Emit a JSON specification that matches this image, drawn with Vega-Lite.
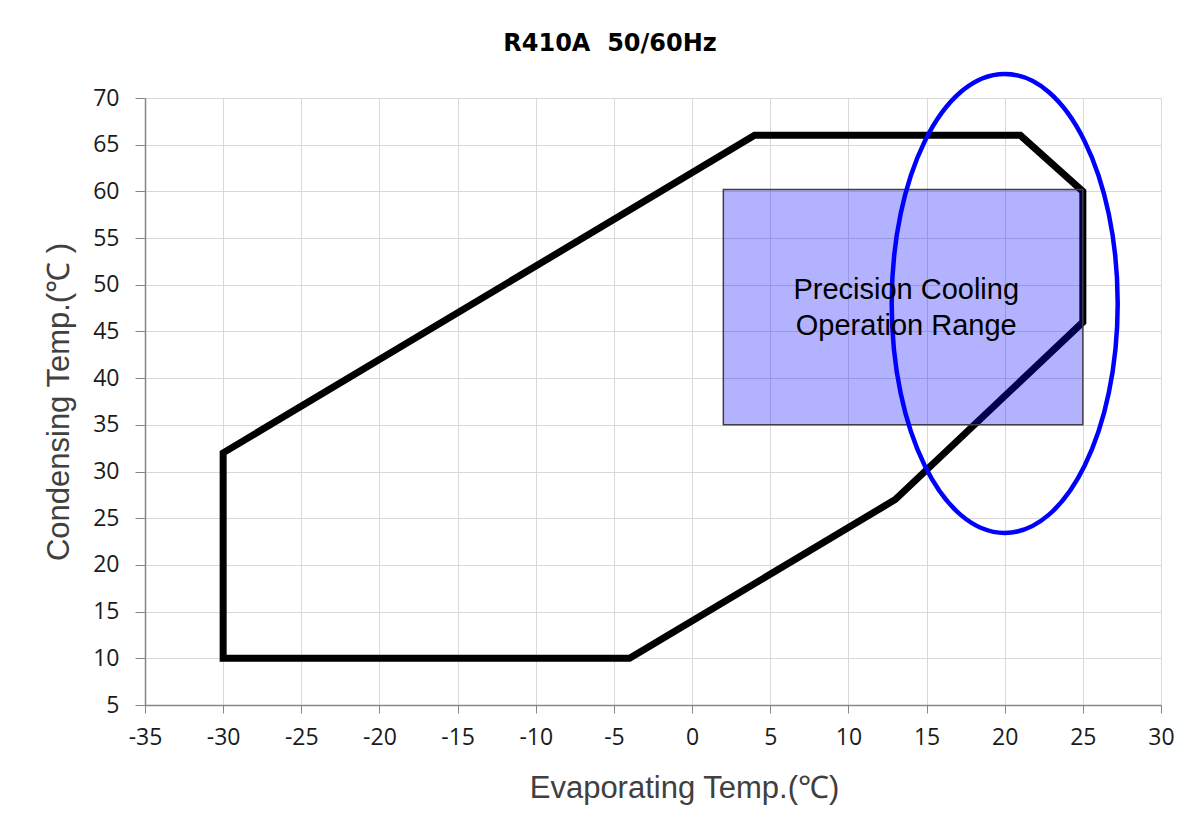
{
  "$schema": "https://vega.github.io/schema/vega-lite/v6.json",
  "width": 1016,
  "height": 607,
  "autosize": "none",
  "padding": {"left": 145, "top": 98, "right": 26, "bottom": 118},
  "background": "white",
  "title": {
    "text": "R410A\u00a0\u00a050/60Hz",
    "font": "DejaVu Sans",
    "fontWeight": "bold",
    "fontSize": 24,
    "color": "#000000",
    "anchor": "middle",
    "frame": "group",
    "baseline": "alphabetic",
    "dx": -43,
    "offset": -10
  },
  "config": {
    "view": {"stroke": null},
    "axisX": {
      "tickCount": 13,
      "grid": true,
      "gridColor": "#d9d9d9",
      "gridWidth": 1,
      "domainColor": "#868686",
      "domainWidth": 1.5,
      "tickColor": "#868686",
      "tickSize": 8,
      "labelFont": "Open Sans",
      "labelFontSize": 23,
      "labelColor": "#1a1a1a",
      "labelPadding": 13,
      "labelExpr": "'' + datum.value",
      "labelFlush": false,
      "labelOverlap": false,
      "titleFont": "Liberation Sans",
      "titleFontSize": 31,
      "titleFontWeight": "normal",
      "titleColor": "#404040",
      "titleBaseline": "alphabetic",
      "titleX": 539,
      "titleY": 92
    },
    "axisY": {
      "tickCount": 13,
      "grid": true,
      "gridColor": "#d9d9d9",
      "gridWidth": 1,
      "domainColor": "#868686",
      "domainWidth": 1.5,
      "tickColor": "#868686",
      "tickSize": 10,
      "labelFont": "Open Sans",
      "labelFontSize": 23,
      "labelColor": "#1a1a1a",
      "labelPadding": 16,
      "labelFlush": false,
      "labelOverlap": false,
      "titleFont": "Liberation Sans",
      "titleFontSize": 31,
      "titleFontWeight": "normal",
      "titleColor": "#404040",
      "titleBaseline": "alphabetic",
      "titleX": -77
    }
  },
  "datasets": {
    "envelope": [
      {"seq": 1, "x": -30, "y": 10},
      {"seq": 2, "x": -30, "y": 32},
      {"seq": 3, "x": 4, "y": 66},
      {"seq": 4, "x": 21, "y": 66},
      {"seq": 5, "x": 25, "y": 60},
      {"seq": 6, "x": 25, "y": 46},
      {"seq": 7, "x": 13, "y": 27},
      {"seq": 8, "x": -4, "y": 10},
      {"seq": 9, "x": -30, "y": 10}
    ],
    "range": [{"x": 2, "x2": 25, "y": 35, "y2": 60.2}],
    "focus": [{"x": 20, "y": 48}],
    "labels": [
      {"x": 13.7, "y": 48.45, "label": "Precision Cooling"},
      {"x": 13.7, "y": 44.6, "label": "Operation Range"}
    ]
  },
  "layer": [
    {
      "data": {"name": "envelope"},
      "mark": {"type": "line", "stroke": "#000000", "strokeWidth": 7, "strokeJoin": "miter", "strokeCap": "square"},
      "encoding": {
        "x": {"field": "x", "type": "quantitative", "title": "Evaporating Temp.(℃)", "scale": {"domain": [-35, 30], "nice": false, "zero": false}},
        "y": {"field": "y", "type": "quantitative", "title": "Condensing Temp.(℃ )", "scale": {"domain": [5, 70], "nice": false, "zero": false}},
        "order": {"field": "seq"}
      }
    },
    {
      "data": {"name": "range"},
      "mark": {"type": "rect", "fill": "#0000ff", "fillOpacity": 0.3, "stroke": "#404040", "strokeWidth": 1.5, "strokeOpacity": 1},
      "encoding": {
        "x": {"field": "x", "type": "quantitative", "title": "Evaporating Temp.(℃)"},
        "x2": {"field": "x2"},
        "y": {"field": "y", "type": "quantitative", "title": "Condensing Temp.(℃ )"},
        "y2": {"field": "y2"}
      }
    },
    {
      "data": {"name": "focus"},
      "mark": {
        "type": "point",
        "shape": "M0,-1C0.272,-1,0.4924,-0.5523,0.4924,0C0.4924,0.5523,0.272,1,0,1C-0.272,1,-0.4924,0.5523,-0.4924,0C-0.4924,-0.5523,-0.272,-1,0,-1Z",
        "size": 210681,
        "filled": false,
        "stroke": "#0000ff",
        "strokeWidth": 4.5,
        "opacity": 1
      },
      "encoding": {
        "x": {"field": "x", "type": "quantitative", "title": "Evaporating Temp.(℃)"},
        "y": {"field": "y", "type": "quantitative", "title": "Condensing Temp.(℃ )"}
      }
    },
    {
      "data": {"name": "labels"},
      "mark": {"type": "text", "font": "Liberation Sans", "fontSize": 29, "color": "#000000", "align": "center", "baseline": "alphabetic"},
      "encoding": {
        "x": {"field": "x", "type": "quantitative", "title": "Evaporating Temp.(℃)"},
        "y": {"field": "y", "type": "quantitative", "title": "Condensing Temp.(℃ )"},
        "text": {"field": "label"}
      }
    }
  ]
}
